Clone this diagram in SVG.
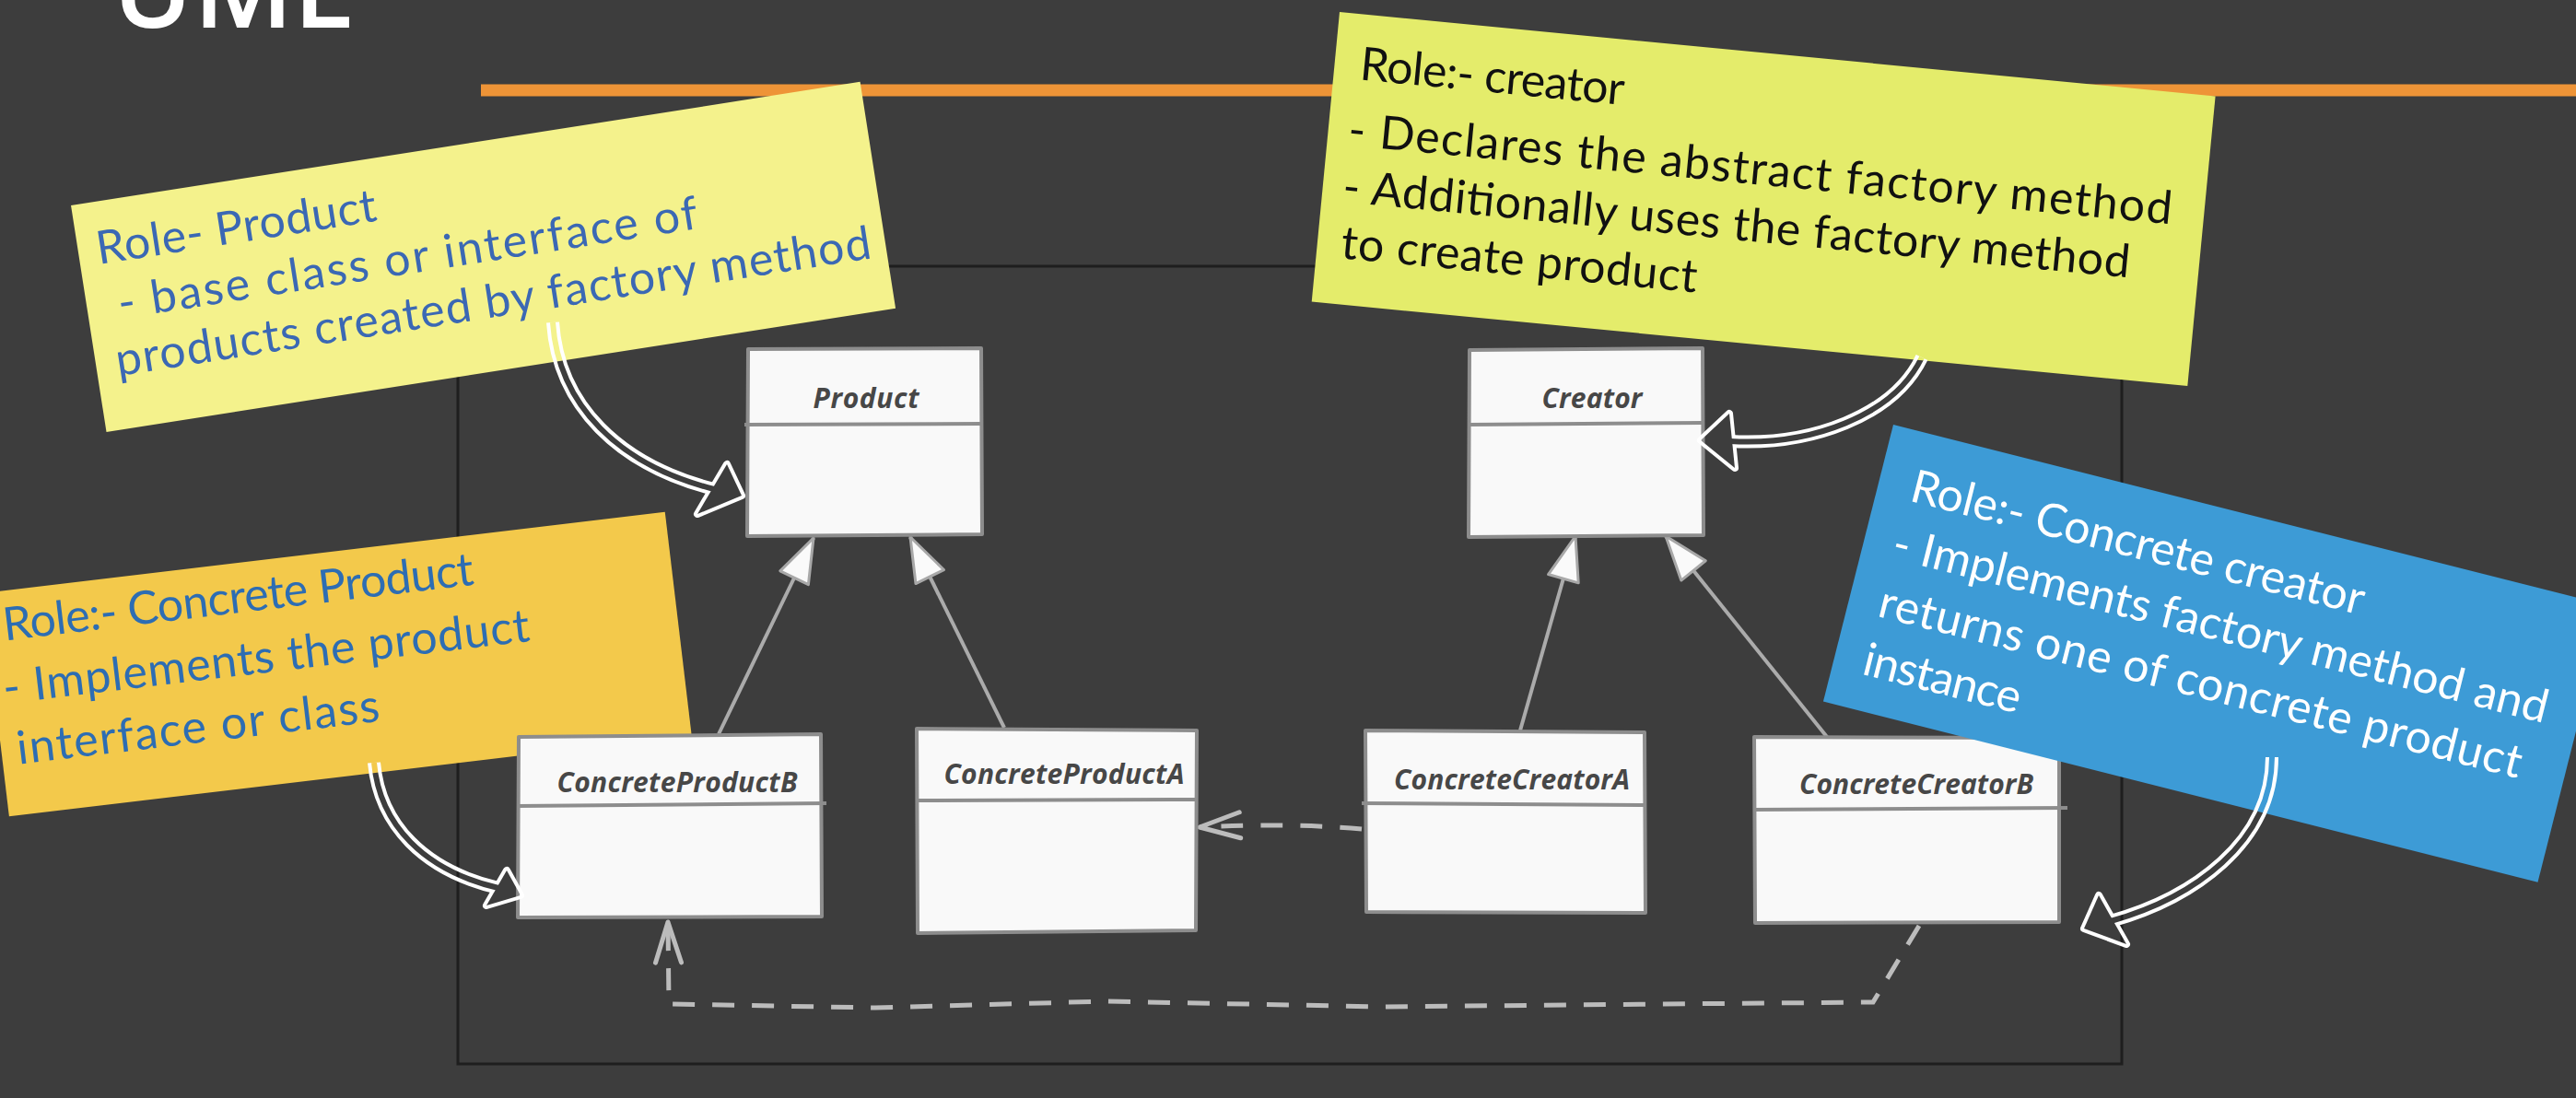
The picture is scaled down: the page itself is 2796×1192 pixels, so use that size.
<svg xmlns="http://www.w3.org/2000/svg" width="2796" height="1192" viewBox="0 0 2796 1192">
  <style>
    .hand { font-family: "Lato", "Open Sans", "Liberation Sans", sans-serif; font-weight: 400; font-size: 50px; }
    .cls { fill: #f9f9f9; stroke: #8d8d8d; stroke-width: 4; stroke-linejoin: round; }
    .div { fill: none; stroke: #8d8d8d; stroke-width: 4; }
    .cname { font-family: "Open Sans", "Liberation Sans", sans-serif; font-weight: 700; font-style: italic; font-size: 30px; fill: #474747; text-anchor: middle; }
    .gen { fill: none; stroke: #ababab; stroke-width: 4; }
    .dep { fill: none; stroke: #bcbcbc; stroke-width: 5; stroke-dasharray: 24 19; }
    .shaft { fill: none; stroke: #ffffff; stroke-width: 14; }
    .head { fill: none; stroke: #ffffff; stroke-width: 8; stroke-linejoin: round; }
  </style>
  <defs>
    <marker id="genHead" markerUnits="userSpaceOnUse" markerWidth="56" markerHeight="44" viewBox="-3 -22 56 44" refX="50" refY="0" orient="auto">
      <path d="M50,0 L2,-17 L2,17 Z" fill="#fafafa" stroke="#a8a8a8" stroke-width="3" stroke-linejoin="round"/>
    </marker>
    <marker id="depHead" markerUnits="userSpaceOnUse" markerWidth="56" markerHeight="40" viewBox="-3 -20 56 40" refX="46" refY="0" orient="auto">
      <path d="M2,-14 L46,0 L2,14" fill="none" stroke="#bcbcbc" stroke-width="5" stroke-linecap="round" stroke-linejoin="round"/>
    </marker>
    <mask id="hollow" maskUnits="userSpaceOnUse" x="0" y="0" width="2796" height="1192">
      <rect x="0" y="0" width="2796" height="1192" fill="#ffffff"/>
      <g fill="none" stroke="#000000" stroke-width="6">
        <path d="M600,350 C606,440 672,505 775,531"/>
        <path d="M2086,388 C2055,452 1965,484 1878,479"/>
        <path d="M406,828 C412,895 460,945 541,964"/>
        <path d="M2466,822 C2466,915 2380,975 2291,1000"/>
      </g>
      <g fill="#000000" stroke="none">
        <polygon points="805,538 789,504 757,558"/>
        <polygon points="1846,478 1877,449 1883,508"/>
        <polygon points="565,972 550,945 528,983"/>
        <polygon points="2262,1008 2278,972 2308,1025"/>
      </g>
    </mask>
  </defs>

  <rect x="0" y="0" width="2796" height="1192" fill="#3d3d3d"/>

  <text x="122" y="30" font-family="Open Sans, Liberation Sans, sans-serif" font-weight="600" font-size="118" fill="#ffffff">UML</text>

  <line x1="522" y1="98" x2="2796" y2="98" stroke="#ee9437" stroke-width="13"/>

  <rect x="497" y="289" width="1806" height="866" fill="none" stroke="#1e1e1e" stroke-width="3"/>

  <g id="note-product" transform="translate(77,223) rotate(-8.9)">
    <rect x="0" y="0" width="867" height="249" fill="#f4f28c"/>
    <g class="hand" fill="#3b68b4">
      <text x="20" y="68" textLength="307" lengthAdjust="spacing">Role- Product</text>
      <text x="34" y="130" textLength="636" lengthAdjust="spacing">- base class or interface of</text>
      <text x="22" y="191" textLength="829" lengthAdjust="spacing">products created by factory method</text>
    </g>
  </g>

  <g id="note-creator" transform="translate(1454,13) rotate(5.5)">
    <rect x="0" y="0" width="955" height="316" fill="#e4ec6b"/>
    <g class="hand" fill="#111111">
      <text x="28" y="71" textLength="288" lengthAdjust="spacing">Role:- creator</text>
      <text x="22" y="143" textLength="898" lengthAdjust="spacing">- Declares the abstract factory method</text>
      <text x="22" y="205" textLength="858" lengthAdjust="spacing">- Additionally uses the factory method</text>
      <text x="26" y="266" textLength="388" lengthAdjust="spacing">to create product</text>
    </g>
  </g>

  <g id="note-concrete-product" transform="translate(-19,644) rotate(-6.8)">
    <rect x="0" y="0" width="746" height="244" fill="#f3c94b"/>
    <g class="hand" fill="#2d6db3" font-size="48">
      <text x="18" y="54" textLength="514" lengthAdjust="spacing">Role:- Concrete Product</text>
      <text x="10" y="122" textLength="575" lengthAdjust="spacing">- Implements the product</text>
      <text x="17" y="189" textLength="396" lengthAdjust="spacing">interface or class</text>
    </g>
  </g>

  <g id="connectors">
    <path class="gen" d="M780,797 L883,584" marker-end="url(#genHead)"/>
    <path class="gen" d="M1090,790 L988,583" marker-end="url(#genHead)"/>
    <path class="gen" d="M1650,793 L1710,582" marker-end="url(#genHead)"/>
    <path class="gen" d="M1983,800 L1808,582" marker-end="url(#genHead)"/>
    <path class="dep" d="M1478,900 Q1400,893 1302,898" marker-end="url(#depHead)"/>
    <path class="dep" d="M2083,1005 L2033,1088 L1800,1090 L1500,1093 L1200,1087 L950,1094 L726,1090 L725,1001" marker-end="url(#depHead)"/>
  </g>

  <g id="Product">
    <path class="cls" d="M812,379 L1065,378 L1066,580 L811,582 Z"/>
    <path class="div" d="M808,461 L1066,460"/>
    <text class="cname" x="940" y="443" textLength="115" lengthAdjust="spacing">Product</text>
  </g>

  <g id="Creator">
    <path class="cls" d="M1595,380 L1848,378 L1849,581 L1594,583 Z"/>
    <path class="div" d="M1594,461 L1849,459"/>
    <text class="cname" x="1728" y="443" textLength="109" lengthAdjust="spacing">Creator</text>
  </g>

  <g id="ConcreteProductB">
    <path class="cls" d="M563,800 L891,797 L892,995 L562,996 Z"/>
    <path class="div" d="M562,875 L897,872"/>
    <text class="cname" x="735" y="860" textLength="261" lengthAdjust="spacing">ConcreteProductB</text>
  </g>

  <g id="ConcreteProductA">
    <path class="cls" d="M995,791 L1299,793 L1298,1010 L996,1013 Z"/>
    <path class="div" d="M995,869 L1299,868"/>
    <text class="cname" x="1155" y="851" textLength="261" lengthAdjust="spacing">ConcreteProductA</text>
  </g>

  <g id="ConcreteCreatorA">
    <path class="cls" d="M1482,793 L1785,795 L1786,991 L1483,990 Z"/>
    <path class="div" d="M1478,872 L1786,874"/>
    <text class="cname" x="1641" y="857" textLength="256" lengthAdjust="spacing">ConcreteCreatorA</text>
  </g>

  <g id="ConcreteCreatorB">
    <path class="cls" d="M1904,800 L2235,801 L2235,1001 L1905,1002 Z"/>
    <path class="div" d="M1903,879 L2244,877"/>
    <text class="cname" x="2080" y="862" textLength="254" lengthAdjust="spacing">ConcreteCreatorB</text>
  </g>

  <g id="note-concrete-creator" transform="translate(2055,461) rotate(14.2)">
    <rect x="0" y="0" width="800" height="310" fill="#3d9bd6"/>
    <g class="hand" fill="#ffffff">
      <text x="36" y="76" textLength="506" lengthAdjust="spacing">Role:- Concrete creator</text>
      <text x="32" y="141" textLength="732" lengthAdjust="spacing">- Implements factory method and</text>
      <text x="33" y="206" textLength="718" lengthAdjust="spacing">returns one of concrete product</text>
      <text x="32" y="271" textLength="175" lengthAdjust="spacing">instance</text>
    </g>
  </g>

  <g id="callouts" mask="url(#hollow)">
    <path class="shaft" d="M600,350 C606,440 672,505 775,531"/>
    <polygon class="head" points="805,538 789,504 757,558"/>
    <path class="shaft" d="M2086,388 C2055,452 1965,484 1878,479"/>
    <polygon class="head" points="1846,478 1877,449 1883,508"/>
    <path class="shaft" d="M406,828 C412,895 460,945 541,964"/>
    <polygon class="head" points="565,972 550,945 528,983"/>
    <path class="shaft" d="M2466,822 C2466,915 2380,975 2291,1000"/>
    <polygon class="head" points="2262,1008 2278,972 2308,1025"/>
  </g>
</svg>
